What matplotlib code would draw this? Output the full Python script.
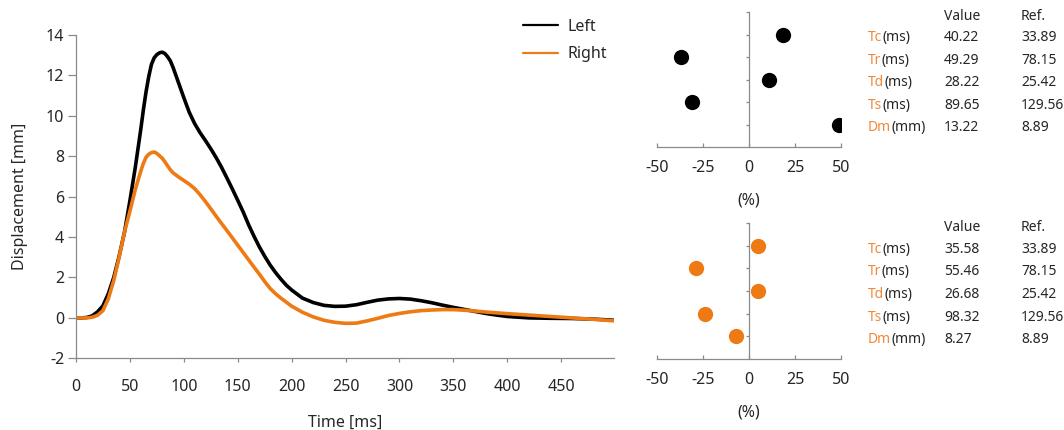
import matplotlib
matplotlib.use("Agg")
import matplotlib.pyplot as plt
import numpy as np

plt.rcParams["font.family"] = ["Noto Sans", "DejaVu Sans"]
plt.rcParams["axes.unicode_minus"] = False

ORANGE = "#EE7A14"
LABEL_ORANGE = "#F0893A"
TEXT = "#262626"
AXIS = "#8a8a8a"

# displacement traces (ms, mm)
TIME = [0, 5, 10, 15, 20, 25, 30, 35, 40, 45, 50, 55, 60,
        62.5, 65, 67.5, 70, 72.5, 75, 77.5, 80, 82.5, 85, 87.5, 90, 95,
        100, 105, 110, 115, 120, 125, 130, 135, 140, 145, 150, 155, 160,
        165, 170, 175, 180, 185, 190, 195, 200,
        210, 220, 230, 240, 250, 260, 270, 280, 290, 300, 310, 320, 330,
        340, 350, 360, 370, 380, 390, 400,
        420, 440, 460, 480, 500]
LEFT = [0, 0, 0.02, 0.1, 0.3, 0.6, 1.2, 2.0, 3.05, 4.25, 5.8, 7.45, 9.3,
        10.3, 11.2, 11.95, 12.55, 12.87, 13.03, 13.12, 13.15, 13.08, 12.92,
        12.72, 12.4, 11.65,
        10.9, 10.18, 9.62, 9.17, 8.78, 8.37, 7.93, 7.45, 6.92, 6.38, 5.82,
        5.25, 4.62, 4.05, 3.52, 3.05, 2.62, 2.25, 1.92, 1.62, 1.38,
        0.98, 0.76, 0.62, 0.57, 0.58, 0.65, 0.77, 0.88, 0.94, 0.96, 0.93,
        0.85, 0.75, 0.63, 0.52, 0.42, 0.32, 0.22, 0.14, 0.07,
        0.0, -0.02, -0.03, -0.06, -0.12]
RIGHT = [0, 0, 0, 0.03, 0.13, 0.36, 0.95, 1.85, 3.0, 4.25, 5.28, 6.35, 7.25,
         7.65, 7.95, 8.1, 8.18, 8.21, 8.14, 8.02, 7.9, 7.72, 7.52, 7.33,
         7.18, 6.98,
         6.8, 6.62, 6.4, 6.1, 5.76, 5.4, 5.03, 4.67, 4.32, 3.96, 3.6, 3.24,
         2.88, 2.52, 2.17, 1.8, 1.46, 1.2, 0.98, 0.78, 0.58,
         0.28, 0.05, -0.12, -0.22, -0.27, -0.26, -0.15, -0.02, 0.12, 0.22,
         0.3, 0.36, 0.39, 0.41, 0.41, 0.38, 0.34, 0.29, 0.25, 0.21,
         0.14, 0.07, 0.0, -0.07, -0.15]

# contraction parameters
PARAMS = ["Tc", "Tr", "Td", "Ts", "Dm"]
UNITS = ["(ms)", "(ms)", "(ms)", "(ms)", "(mm)"]
REF = [33.89, 78.15, 25.42, 129.56, 8.89]
LEFT_VALUES = [40.22, 49.29, 28.22, 89.65, 13.22]
RIGHT_VALUES = [35.58, 55.46, 26.68, 98.32, 8.27]

W, H = 1064, 430
FS = 11.5
TABLE_FS = 10


def px_axes(x0, y0, x1, y1):
    return [x0 / W, 1 - y1 / H, (x1 - x0) / W, (y1 - y0) / H]


fig = plt.figure(figsize=(W / 100, H / 100), dpi=100)

# --- displacement curves ---
ax = fig.add_axes(px_axes(76, 35, 614, 358.3))
ax.plot(TIME, LEFT, color="black", lw=2.6, label="Left",
        solid_capstyle="round", solid_joinstyle="round")
ax.plot(TIME, RIGHT, color=ORANGE, lw=2.6, label="Right",
        solid_capstyle="round", solid_joinstyle="round")
ax.set_xlim(0, 499)
ax.set_ylim(-2, 14)
ax.set_xticks(np.arange(0, 451, 50))
ax.set_yticks(np.arange(-2, 15, 2))
for side in ("top", "right"):
    ax.spines[side].set_visible(False)
for side in ("left", "bottom"):
    ax.spines[side].set_color(AXIS)
    ax.spines[side].set_linewidth(0.9)
ax.tick_params(axis="x", direction="out", length=3, width=0.9, color=AXIS,
               pad=12, labelsize=FS, labelcolor=TEXT)
ax.tick_params(axis="y", direction="out", length=5.5, width=0.9, color=AXIS,
               pad=3, labelsize=FS, labelcolor=TEXT)
ax.set_xlabel("Time [ms]", fontsize=FS, color=TEXT, labelpad=14)
ax.set_ylabel("Displacement [mm]", fontsize=FS, color=TEXT, labelpad=13)

leg = ax.legend(loc="upper left", bbox_to_anchor=(523 / W, 1 - 19 / H),
                bbox_transform=fig.transFigure, frameon=False, fontsize=FS,
                handlelength=2.2, handletextpad=0.6, labelspacing=0.7,
                borderpad=0, borderaxespad=0)
for line in leg.get_lines():
    line.set_linewidth(1.6)
for t in leg.get_texts():
    t.set_color(TEXT)


# --- deviation from reference ---
def deviation_panel(rect, values, color):
    dax = fig.add_axes(rect)
    pct = [(v - r) / r * 100 for v, r in zip(values, REF)]
    pos = np.arange(1, len(PARAMS) + 1)
    dax.plot(pct, pos, "o", color=color, ms=11, mec="none", zorder=3)
    dax.set_xlim(-50, 50)
    dax.set_ylim(6, 0)
    dax.set_xticks([-50, -25, 0, 25, 50])
    dax.set_yticks(np.arange(0, 6))
    dax.set_yticklabels([])
    for side in ("top", "right"):
        dax.spines[side].set_visible(False)
    dax.spines["left"].set_position(("data", 0))
    for side in ("left", "bottom"):
        dax.spines[side].set_color(AXIS)
        dax.spines[side].set_linewidth(0.9)
    dax.tick_params(axis="x", direction="in", length=3, width=0.9, color=AXIS,
                    pad=9, labelsize=FS, labelcolor=TEXT)
    dax.tick_params(axis="y", direction="out", length=2.5, width=0.9, color=AXIS)
    dax.set_xlabel("(%)", fontsize=FS, color=TEXT, labelpad=12)

    tr = dax.get_yaxis_transform()
    dax.text(1.56, 0.2, "Value", transform=tr, fontsize=TABLE_FS, color=TEXT,
             va="center", ha="left")
    dax.text(1.978, 0.2, "Ref.", transform=tr, fontsize=TABLE_FS, color=TEXT,
             va="center", ha="left")
    for k, (name, unit, v, r) in enumerate(zip(PARAMS, UNITS, values, REF)):
        y = k + 1.15
        t1 = dax.text(1.147, y, name, transform=tr, fontsize=TABLE_FS,
                      color=LABEL_ORANGE, va="center", ha="left")
        dax.annotate(unit, xy=(1, 0), xycoords=t1, fontsize=TABLE_FS,
                     color=TEXT, va="bottom", ha="left")
        dax.text(1.56, y, f"{v:.2f}", transform=tr, fontsize=TABLE_FS,
                 color=TEXT, va="center", ha="left")
        dax.text(1.978, y, f"{r:.2f}", transform=tr, fontsize=TABLE_FS,
                 color=TEXT, va="center", ha="left")
    return dax


deviation_panel(px_axes(657, 12, 841, 147), LEFT_VALUES, "black")
deviation_panel(px_axes(657, 223, 841, 359), RIGHT_VALUES, ORANGE)

fig.savefig("out.png", dpi=100)
